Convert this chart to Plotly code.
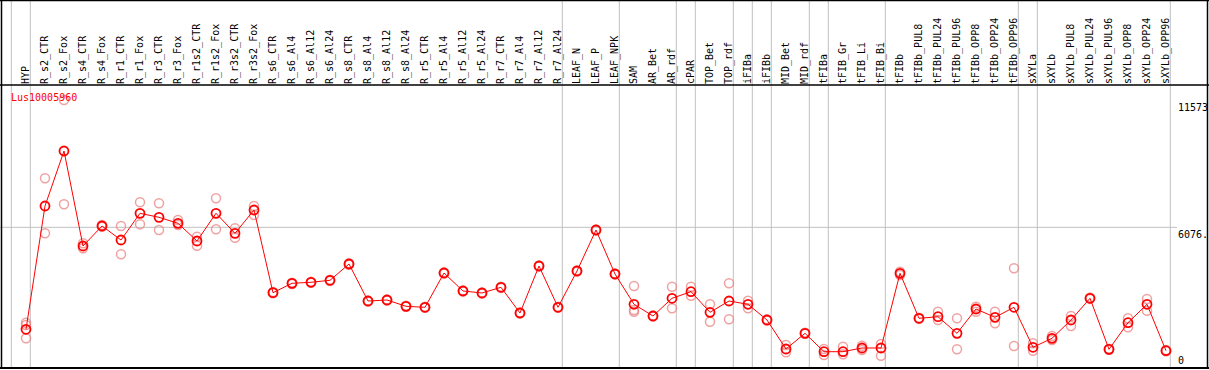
import plotly.graph_objects as go

categories = [
    "HYP", "R_s2_CTR", "R_s2_Fox", "R_s4_CTR", "R_s4_Fox", "R_r1_CTR", "R_r1_Fox",
    "R_r3_CTR", "R_r3_Fox", "R_r1s2_CTR", "R_r1s2_Fox", "R_r3s2_CTR", "R_r3s2_Fox",
    "R_s6_CTR", "R_s6_Al4", "R_s6_Al12", "R_s6_Al24", "R_s8_CTR", "R_s8_Al4",
    "R_s8_Al12", "R_s8_Al24", "R_r5_CTR", "R_r5_Al4", "R_r5_Al12", "R_r5_Al24",
    "R_r7_CTR", "R_r7_Al4", "R_r7_Al12", "R_r7_Al24", "LEAF_N", "LEAF_P", "LEAF_NPK",
    "SAM", "AR_Bet", "AR_rdf", "cPAR", "TOP_Bet", "TOP_rdf", "iFIBa", "iFIBb",
    "MID_Bet", "MID_rdf", "tFIBa", "tFIB_Gr", "tFIB_Li", "tFIB_Bi", "tFIBb",
    "tFIBb_PUL8", "tFIBb_PUL24", "tFIBb_PUL96", "tFIBb_OPP8", "tFIBb_OPP24", "tFIBb_OPP96",
    "sXYLa", "sXYLb", "sXYLb_PUL8", "sXYLb_PUL24", "sXYLb_PUL96", "sXYLb_OPP8",
    "sXYLb_OPP24", "sXYLb_OPP96",
]

mean_values = [
    1671, 6996, 9370, 5268, 6132, 5527, 6680, 6507, 6248, 5484, 6680, 5816, 6822,
    3252, 3657, 3701, 3787, 4491, 2893, 2936, 2664, 2621, 4102, 3325, 3239,
    3485, 2375, 4404, 2621, 4188, 5959, 4059,
    2751, 2245, 3010, 3295, 2405, 2893, 2751, 2073,
    820, 1498, 704, 704, 864, 864, 4089,
    2146, 2215, 1498, 2548, 2189, 2621,
    894, 1282, 2073, 3010, 807, 1956, 2751, 747,
]

rep_high = [
    1956, 8191, 11573, 5385, 6180, 6132, 7155, 7112, 6391, 5670, 7328, 6032, 6995,
    3280, 3680, 3720, 3810, 4520, 2910, 2960, 2690, 2640, 4130, 3350, 3260,
    3510, 2400, 4430, 2640, 4210, 5980, 4080,
    3541, 2270, 3511, 3511, 2751, 3657, 2906, 2100,
    993, 1520, 820, 920, 963, 1036, 4158,
    2170, 2431, 2146, 2647, 2431, 4305,
    1067, 1382, 2245, 3040, 830, 2146, 2979, 777,
]

rep_low = [
    1282, 5816, 7069, 5169, 6100, 4910, 6205, 5959, 6175, 5281, 5989, 5626, 6607,
    3230, 3630, 3680, 3760, 4460, 2870, 2910, 2640, 2600, 4080, 3300, 3220,
    3460, 2350, 4380, 2600, 4165, 5940, 4040,
    2431, 2220, 2578, 3122, 1999, 2103, 2578, 2050,
    678, 1475, 561, 592, 777, 531, 4016,
    2120, 2073, 807, 2431, 1930, 950,
    747, 1209, 1814, 2985, 785, 1757, 2474, 720,
]

rep_extra_categories = ["HYP", "SAM"]
rep_extra_values = [1857, 2504]

group_last_index = [-1, 0, 28, 31, 34, 35, 37, 38, 39, 41, 42, 45, 52, 53, 60]

right_tick_values = [11573, 6076, 0]
right_tick_text = ["11573", "6076.", "0"]
title_text = "Lus10005960"

W, H = 1209, 370
T, B = 85, 2
plot_h = H - T - B
x0 = -26 / 19
x1 = x0 + W / 19
y_top = 11573 * plot_h / 268

mono = "DejaVu Sans Mono"
red = "#ff0000"
pink = "rgba(235,130,130,0.75)"

fig = go.Figure()
for reps_x, reps_y in [(categories, rep_high), (categories, rep_low),
                       (rep_extra_categories, rep_extra_values)]:
    fig.add_trace(go.Scatter(
        x=reps_x, y=reps_y, mode="markers",
        marker=dict(symbol="circle-open", size=9, color=pink, line=dict(width=1.5)),
        showlegend=False, hoverinfo="skip", cliponaxis=False,
    ))
fig.add_trace(go.Scatter(
    x=categories, y=mean_values, mode="lines+markers",
    line=dict(color=red, width=1),
    marker=dict(symbol="circle-open", size=9, color=red, line=dict(width=1.8)),
    showlegend=False, cliponaxis=False,
))

shapes = []
top_paper = 1 + (T - 0.5) / plot_h
for gi in group_last_index:
    shapes.append(dict(type="line", xref="x", yref="paper",
                       x0=gi + 4.3 / 19, x1=gi + 4.3 / 19, y0=0, y1=top_paper,
                       line=dict(color="#c0c0c0", width=1), layer="below"))
shapes.append(dict(type="line", xref="paper", yref="y", x0=0, x1=1177 / W,
                   y0=6076, y1=6076, line=dict(color="#c0c0c0", width=1), layer="below"))
# frame
shapes.append(dict(type="line", xref="paper", yref="paper", x0=0, x1=1,
                   y0=top_paper, y1=top_paper, line=dict(color="black", width=1.5)))
shapes.append(dict(type="line", xref="paper", yref="paper", x0=0, x1=1,
                   y0=1, y1=1, line=dict(color="black", width=1.5)))
shapes.append(dict(type="line", xref="paper", yref="paper", x0=0, x1=1,
                   y0=0, y1=0, line=dict(color="black", width=2)))
shapes.append(dict(type="line", xref="paper", yref="paper", x0=1.5 / W, x1=1.5 / W,
                   y0=0, y1=top_paper, line=dict(color="black", width=1.5)))
shapes.append(dict(type="line", xref="paper", yref="paper", x0=1 - 1.5 / W, x1=1 - 1.5 / W,
                   y0=0, y1=top_paper, line=dict(color="black", width=1.5)))

annotations = [dict(text=title_text, xref="paper", yref="paper", x=9 / W, y=1 - 5 / plot_h,
                    xanchor="left", yanchor="top", showarrow=False,
                    font=dict(family=mono, size=10, color=red))]
for v, t in zip(right_tick_values, right_tick_text):
    annotations.append(dict(text=t, xref="paper", yref="y", x=1176 / W, y=v,
                            xanchor="left", yanchor="bottom" if v == 0 else "top",
                            showarrow=False, font=dict(family=mono, size=10, color="black")))

fig.update_layout(
    width=W, height=H,
    margin=dict(l=0, r=0, t=T, b=B, pad=0),
    paper_bgcolor="white", plot_bgcolor="white",
    xaxis=dict(type="category", categoryorder="array", categoryarray=categories,
               range=[x0, x1], side="top", tickangle=-90, showgrid=False,
               ticks="", showline=False, zeroline=False,
               tickfont=dict(family=mono, size=10, color="black")),
    yaxis=dict(range=[0, y_top], showgrid=False, showticklabels=False,
               zeroline=False, showline=False, ticks=""),
    shapes=shapes, annotations=annotations,
)

fig.write_html("out.html",
               config={"displayModeBar": False},
               post_script="document.body.style.margin='0px';document.body.style.overflow='hidden';")
